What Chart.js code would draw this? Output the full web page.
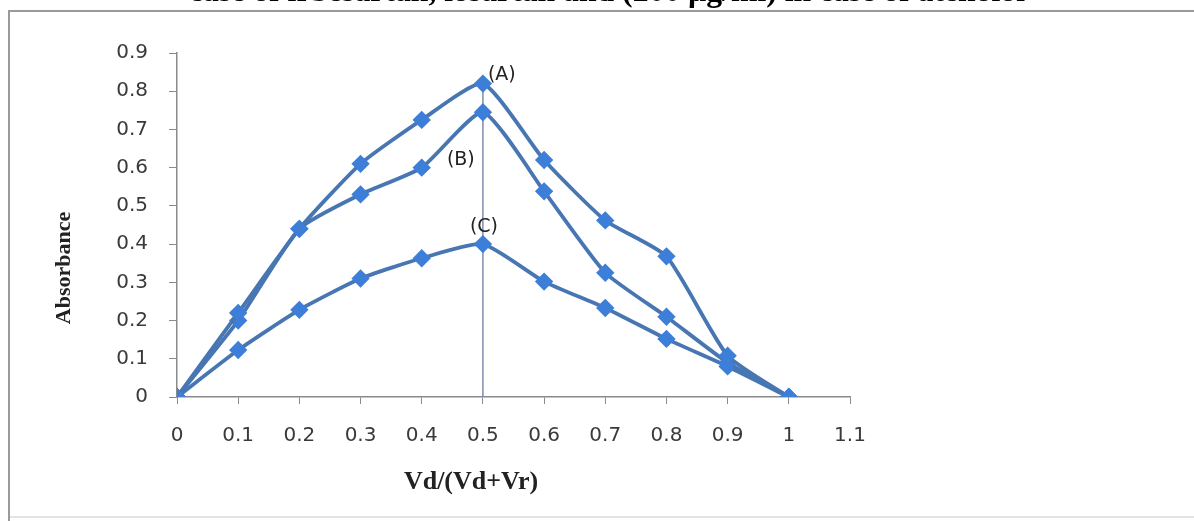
<!DOCTYPE html>
<html>
<head>
<meta charset="utf-8">
<script src="https://cdn.jsdelivr.net/npm/chart.js@4.4.0/dist/chart.umd.min.js"></script>
<style>
  html, body { margin: 0; padding: 0; background: #fff; }
  #wrap { position: relative; width: 1194px; height: 521px; }
</style>
</head>
<body>
<div id="wrap"><canvas id="myChart" width="1194" height="521"></canvas></div>
<script>
// mole fraction values Vd/(Vd+Vr)
let fractions = [0, 0.1, 0.2, 0.3, 0.4, 0.5, 0.6, 0.7, 0.8, 0.9, 1]
let curveA = [0, 0.22, 0.44, 0.61, 0.725, 0.82, 0.62, 0.462, 0.368, 0.108, 0]
let curveB = [0, 0.20, 0.44, 0.53, 0.60, 0.745, 0.538, 0.325, 0.21, 0.09, 0]
let curveC = [0, 0.123, 0.228, 0.31, 0.363, 0.40, 0.302, 0.233, 0.152, 0.08, 0]
let curveLabels = ['(A)', '(B)', '(C)']
let xTicks = [0, 0.1, 0.2, 0.3, 0.4, 0.5, 0.6, 0.7, 0.8, 0.9, 1, 1.1]
let yTicks = [0, 0.1, 0.2, 0.3, 0.4, 0.5, 0.6, 0.7, 0.8, 0.9]
let peakX = 0.5
let titreHaut = 'case of irbesartan, losartan and (200 \u00b5g/ml) in case of atenolol'
let titreX = 'Vd/(Vd+Vr)'
let titreY = 'Absorbance'

const toPoints = (arr) => fractions.map((x, i) => ({ x: x, y: arr[i] }))

const lineColor = '#4776b2'
const markColor = '#3d7fd8'

function serie(label, values) {
  return {
    label: label,
    data: toPoints(values),
    borderColor: lineColor,
    backgroundColor: markColor,
    pointBackgroundColor: markColor,
    pointBorderColor: markColor,
    pointStyle: 'rectRot',
    pointRadius: 6.5,
    borderWidth: 3.8,
    tension: 0.18,
    fill: false
  }
}

// cadre + titre coupe + titres d'axes + etiquettes (A)(B)(C)
const decor = {
  id: 'decor',
  beforeDraw(chart) {
    const c = chart.ctx
    c.save()
    c.fillStyle = '#fff'
    c.fillRect(0, 0, chart.width, chart.height)
    c.strokeStyle = '#9a9a9a'
    c.lineWidth = 2
    c.beginPath()
    c.moveTo(9, 521)
    c.lineTo(9, 11)
    c.lineTo(1194, 11)
    c.stroke()
    c.strokeStyle = '#e4e4e4'
    c.beginPath()
    c.moveTo(10, 517)
    c.lineTo(1194, 517)
    c.stroke()

    // titre du document, coupe en haut
    c.fillStyle = '#000'
    c.font = 'bold 20px "Liberation Serif"'
    let w = c.measureText(titreHaut).width
    let size = 20 * 835 / w
    c.font = 'bold ' + size.toFixed(1) + 'px "Liberation Serif"'
    c.textAlign = 'center'
    c.textBaseline = 'alphabetic'
    c.fillText(titreHaut, 607, 1)

    // titres des axes
    c.fillStyle = '#222'
    c.font = 'bold 26px "Liberation Serif"'
    c.textBaseline = 'middle'
    c.fillText(titreX, 471, 482)
    c.translate(64, 268)
    c.rotate(-Math.PI / 2)
    c.font = 'bold 22px "Liberation Serif"'
    c.fillText(titreY, 0, 0)
    c.restore()
  },
  afterDatasetsDraw(chart) {
    const c = chart.ctx
    const xs = chart.scales.x, ys = chart.scales.y
    const i = fractions.indexOf(peakX)
    const px = xs.getPixelForValue(peakX)
    c.save()
    c.fillStyle = '#222'
    c.font = '19px "DejaVu Sans"'
    c.textBaseline = 'middle'
    c.textAlign = 'left'
    c.fillText(curveLabels[0], px + 5, ys.getPixelForValue(curveA[i]) - 9)
    c.fillText(curveLabels[1], px - 36, ys.getPixelForValue(curveB[i]) + 48)
    c.fillText(curveLabels[2], px - 13, ys.getPixelForValue(curveC[i]) - 17)
    c.restore()
  }
}

const ctx = document.getElementById('myChart')

new Chart(ctx, {
  type: 'line',
  data: {
    datasets: [
      {
        label: 'peak',
        data: [{ x: peakX, y: 0 }, { x: peakX, y: curveA[fractions.indexOf(peakX)] }],
        borderColor: '#7d8db0',
        borderWidth: 1.5,
        pointRadius: 0,
        tension: 0,
        order: 5
      },
      serie('A', curveA),
      serie('B', curveB),
      serie('C', curveC)
    ]
  },
  options: {
    responsive: false,
    animation: false,
    events: [],
    layout: { padding: { top: 53, right: 344, left: 0, bottom: 0 } },
    plugins: {
      legend: { display: false },
      tooltip: { enabled: false }
    },
    scales: {
      x: {
        type: 'linear',
        min: 0,
        max: 1.1,
        afterFit: (s) => { s.height = 124 },
        afterBuildTicks: (s) => { s.ticks = xTicks.map(v => ({ value: v })) },
        ticks: {
          color: '#3a3a3a',
          font: { family: 'DejaVu Sans', size: 20 },
          padding: 20,
          maxRotation: 0,
          callback: (v) => String(Math.round(v * 10) / 10)
        },
        grid: { drawOnChartArea: false, tickLength: 7, color: '#8a8a8a' },
        border: { color: '#8a8a8a', width: 1.5 }
      },
      y: {
        type: 'linear',
        min: 0,
        max: 0.9,
        afterFit: (s) => { s.width = 177 },
        afterBuildTicks: (s) => { s.ticks = yTicks.map(v => ({ value: v })) },
        ticks: {
          color: '#3a3a3a',
          font: { family: 'DejaVu Sans', size: 20 },
          padding: 21,
          callback: (v) => String(Math.round(v * 10) / 10)
        },
        grid: { drawOnChartArea: false, tickLength: 8, color: '#8a8a8a' },
        border: { color: '#8a8a8a', width: 1.5 }
      }
    }
  },
  plugins: [decor]
})
</script>
</body>
</html>
